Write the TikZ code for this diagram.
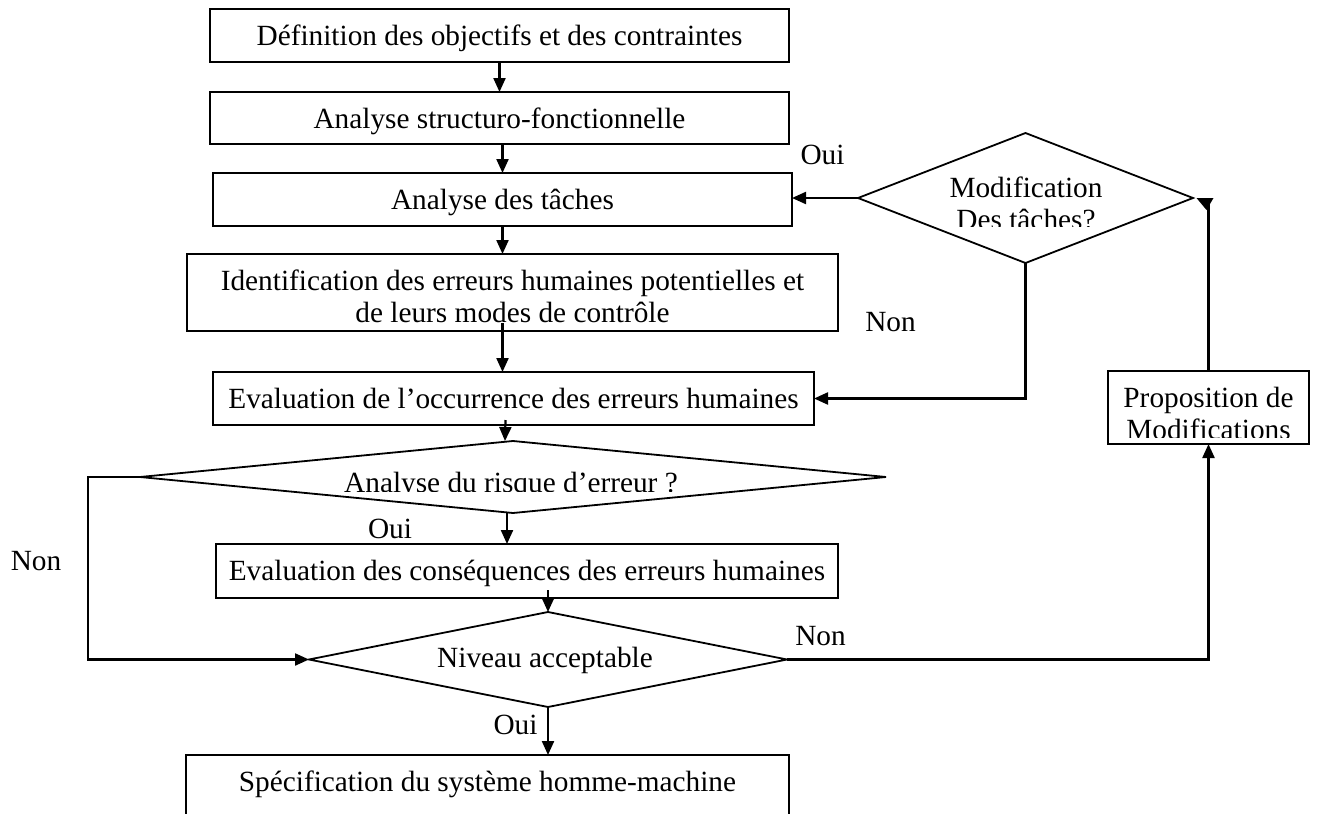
\documentclass[tikz,border=0pt]{standalone}
\usepackage{fontspec}
\setmainfont{Liberation Serif}
\usetikzlibrary{arrows.meta,shapes.geometric,calc}
\begin{document}
\begin{tikzpicture}[x=0.5pt,y=-0.5pt,
  font=\fontsize{14.65pt}{16pt}\selectfont,
  stepbox/.style={draw, line width=0.9pt, rectangle, inner xsep=0pt, inner ysep=0pt,
                  outer sep=0pt, text height=18pt},
  decision/.style={draw, line width=0.9pt, diamond, inner sep=0pt, outer sep=0pt},
  flow/.style={line width=1.1pt, -{Triangle[length=7pt,width=6pt]}},
  plain/.style={line width=1.1pt},
  tag/.style={anchor=base, inner sep=0pt}]
\path[use as bounding box, clip] (0,0) rectangle (1318,814);

% process boxes (text baseline sits 36px below each top edge)
\node[stepbox, minimum width=289.5pt, text depth=8.5pt] (b1) at (499.5,35.5)
  {Définition des objectifs et des contraintes};
\node[stepbox, minimum width=289.5pt, text depth=8pt] (b2) at (499.5,118)
  {Analyse structuro-fonctionnelle};
\node[stepbox, minimum width=289.5pt, text depth=8.5pt] (b3) at (502.5,199.5)
  {Analyse des tâches};
\node[stepbox, minimum width=325.5pt, text depth=20.5pt] (b4) at (512.5,292.5)
  {\begin{tabular}[t]{@{}c@{}}Identification des erreurs humaines potentielles et\\
   de leurs modes de contrôle\end{tabular}};
\node[stepbox, minimum width=300.5pt, text depth=8.5pt] (b5) at (513.5,398.5)
  {Evaluation de l’occurrence des erreurs humaines};
\node[stepbox, minimum width=311pt, text depth=9pt] (b6) at (527,571)
  {Evaluation des conséquences des erreurs humaines};
\node[stepbox, minimum width=301.5pt, text depth=22pt] (b7) at (487.5,795)
  {Spécification du système homme-machine};
\node[stepbox, minimum width=100.5pt, minimum height=36.5pt] (prop) at (1208.5,407.5) {};

% decisions
\node[decision, minimum width=167.5pt, minimum height=65pt] (dm) at (1025.5,198) {};
\node[decision, minimum width=373pt, minimum height=36pt] (d2) at (513,477) {};
\node[decision, minimum width=239pt, minimum height=47.5pt] (d3) at (548,659.5) {};
\node[tag] (d3t) at (545,667) {Niveau acceptable};

% texts cut by their frames
\begin{scope}
  \clip (858,120) rectangle (1193,226);
  \node[tag] (dmt1) at (1026,197) {Modification};
  \node[tag] (dmt2) at (1026,229) {Des tâches?};
\end{scope}
\begin{scope}
  \clip (1108,371) rectangle (1309,437);
  \node[tag] (pt1) at (1208.5,407) {Proposition de};
  \node[tag] (pt2) at (1208.5,439) {Modifications};
\end{scope}
\begin{scope}
  \clip (140,441) rectangle (886,491.5);
  \node[tag] (d2t) at (511,492) {Analyse du risque d’erreur ?};
\end{scope}

% branch labels
\node[tag] (oui1) at (822.5,164.5) {Oui};
\node[tag] (non1) at (890.5,331.5) {Non};
\node[tag] (oui2) at (390,538) {Oui};
\node[tag] (non2) at (36,570.5) {Non};
\node[tag] (non3) at (820.5,645) {Non};
\node[tag] (oui3) at (515.5,734) {Oui};

% main chain
\draw[flow] (b1.south) -- (b2.north);
\draw[flow] (b2.south -| b3.north) -- (b3.north);
\draw[flow] (b3.south) -- (b3.south |- b4.north);
\draw[flow] ($(b4.south)+(-10,-8)$) -- ($(b4.south |- b5.north)+(-10,0)$);
\draw[flow] ($(b5.south)+(-8,-5)$) -- ($(d2.north)+(-8,0)$);
\draw[flow] ($(d2.south)+(-6,0)$) -- ($(d2.south |- b6.north)+(-6,0)$);
\draw[flow] ($(b6.south -| d3.north)+(0,-8)$) -- (d3.north);
\draw[flow] (d3.south) -- (d3.south |- b7.north);

% loops
\draw[flow] (dm.west) -- (dm.west -| b3.east);
\draw[flow] (dm.south) |- (b5.east);
\draw[flow] (d2.west) -- ++(-52,0) |- (d3.west);
\draw[flow] (d3.east) -| (prop.south);
\draw[plain] (prop.north) -- (prop.north |- dm.east) coordinate (corner);
\fill ($(corner)+(-12,0)$) -- ($(corner)+(5,0)$) -- ($(corner)+(-2,12)$) -- cycle;
\end{tikzpicture}
\end{document}
